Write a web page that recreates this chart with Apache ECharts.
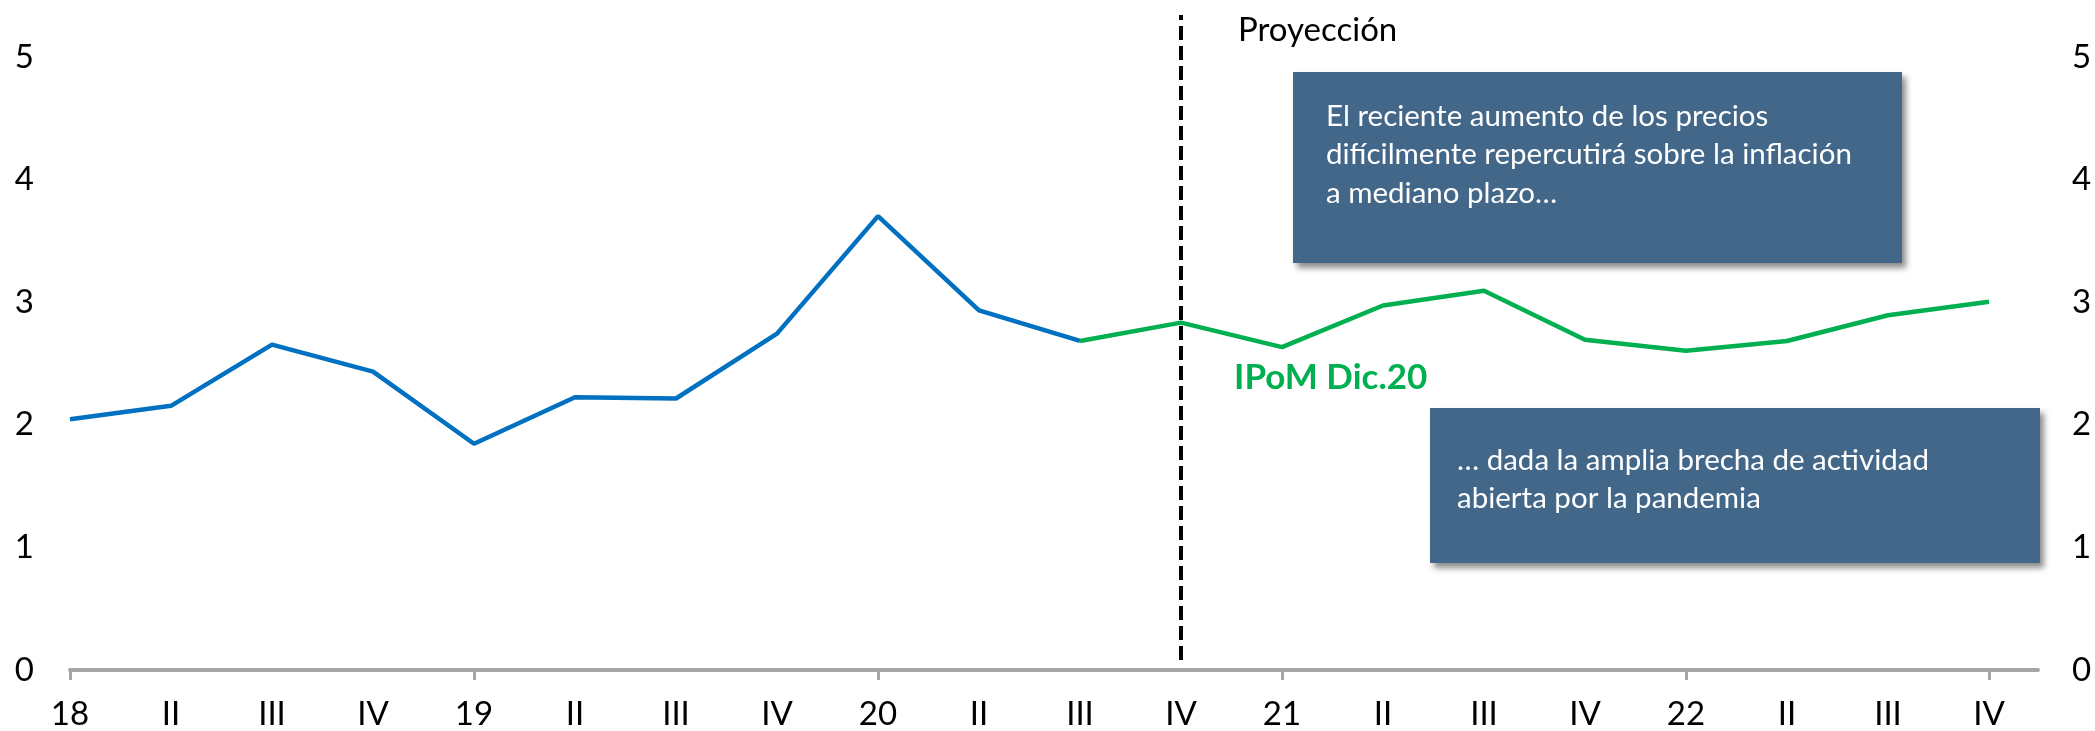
<!DOCTYPE html>
<html>
<head>
<meta charset="utf-8">
<script src="https://cdn.jsdelivr.net/npm/echarts@6/dist/echarts.min.js"></script>
<style>
html, body { margin: 0; padding: 0; background: #fff; }
#chart { width: 2095px; height: 731px; }
</style>
</head>
<body>
<div id="chart"></div>
<script>
// trimestres 2018-2022
var categories = ['18', 'II', 'III', 'IV', '19', 'II', 'III', 'IV', '20', 'II', 'III', 'IV',
                  '21', 'II', 'III', 'IV', '22', 'II', 'III', 'IV'];
// efectivo (azul) y proyección IPoM Dic.20 (verde)
var efectivo = [2.04, 2.15, 2.65, 2.43, 1.84, 2.22, 2.21, 2.74, 3.70, 2.93, 2.68,
                null, null, null, null, null, null, null, null, null];
var ipom = [null, null, null, null, null, null, null, null, null, null, 2.68,
            2.83, 2.63, 2.97, 3.09, 2.69, 2.60, 2.68, 2.89, 3.00];
var yTicks = [0, 1, 2, 3, 4, 5];
var inicioProyeccion = 11;   // IV trimestre 2020

var font = 'Lato, "Open Sans", sans-serif';
var boxColor = '#426789';

var chart = echarts.init(document.getElementById('chart'));

var option = {
    backgroundColor: '#fff',
    animation: false,
    grid: [
        { left: 70, right: 106, top: 57, bottom: 61 },
        { left: 70, right: 57, top: 57, bottom: 61 },
        { left: 70, right: 106, top: 15, bottom: 71 }
    ],
    xAxis: [
        {
            gridIndex: 0, type: 'category', data: categories, boundaryGap: false,
            axisLine: { show: false },
            axisTick: { show: true, interval: 3, length: 11, lineStyle: { color: '#a6a6a6', width: 3 } },
            axisLabel: { interval: 0, margin: 29, color: '#000', fontSize: 33, fontFamily: font },
            splitLine: { show: false }
        },
        {
            gridIndex: 1, type: 'value', min: 0, max: 1,
            axisLine: { show: true, onZero: false, lineStyle: { color: '#a6a6a6', width: 4 } },
            axisTick: { show: false }, axisLabel: { show: false }, splitLine: { show: false }
        },
        {
            gridIndex: 2, type: 'category', data: categories, boundaryGap: false, show: false
        }
    ],
    yAxis: [
        { gridIndex: 0, type: 'value', min: 0, max: 5, show: false },
        {
            gridIndex: 1, type: 'value', position: 'left', min: yTicks[0], max: yTicks[yTicks.length - 1], interval: 1,
            axisLine: { show: false }, axisTick: { show: false }, splitLine: { show: false },
            axisLabel: { margin: 36, color: '#000', fontSize: 33, fontFamily: font }
        },
        {
            gridIndex: 1, type: 'value', position: 'right', min: yTicks[0], max: yTicks[yTicks.length - 1], interval: 1,
            axisLine: { show: false }, axisTick: { show: false }, splitLine: { show: false },
            axisLabel: { margin: 34, color: '#000', fontSize: 33, fontFamily: font }
        },
        { gridIndex: 2, type: 'value', min: 0, max: 1, show: false }
    ],
    series: [
        {
            name: 'Efectivo', type: 'line', xAxisIndex: 0, yAxisIndex: 0,
            data: efectivo, symbol: 'none', connectNulls: false,
            lineStyle: { color: '#0070c0', width: 4.5 }
        },
        {
            name: 'IPoM Dic.20', type: 'line', xAxisIndex: 0, yAxisIndex: 0,
            data: ipom, symbol: 'none', connectNulls: false,
            lineStyle: { color: '#00b050', width: 4.5 }
        },
        {
            name: 'corte', type: 'line', xAxisIndex: 2, yAxisIndex: 3, data: [],
            markLine: {
                silent: true, symbol: 'none', label: { show: false },
                lineStyle: { color: '#000', width: 4, type: [14, 6] },
                data: [{ xAxis: inicioProyeccion }]
            }
        }
    ],
    graphic: [
        {
            type: 'text', left: 1238, top: 14,
            style: { text: 'Proyección', fill: '#000', font: '33px ' + font }
        },
        {
            type: 'text', left: 1234, top: 360,
            style: { text: 'IPoM Dic.20', fill: '#00b050', font: 'bold 35px ' + font }
        },
        {
            type: 'rect', shape: { x: 1293, y: 72, width: 609, height: 191 },
            style: { fill: boxColor, shadowBlur: 6, shadowOffsetX: 4, shadowOffsetY: 5, shadowColor: 'rgba(0,0,0,0.45)' }
        },
        {
            type: 'text', left: 1326, top: 97,
            style: {
                text: 'El reciente aumento de los precios\ndifícilmente repercutirá sobre la inflación\na mediano plazo…',
                fill: '#fff', font: '29.5px ' + font, lineHeight: 38.5
            }
        },
        {
            type: 'rect', shape: { x: 1430, y: 408, width: 610, height: 155 },
            style: { fill: boxColor, shadowBlur: 6, shadowOffsetX: 4, shadowOffsetY: 5, shadowColor: 'rgba(0,0,0,0.45)' }
        },
        {
            type: 'text', left: 1457, top: 441,
            style: {
                text: '… dada la amplia brecha de actividad\nabierta por la pandemia',
                fill: '#fff', font: '29.5px ' + font, lineHeight: 38.5
            }
        }
    ]
};

chart.setOption(option);
</script>
</body>
</html>
